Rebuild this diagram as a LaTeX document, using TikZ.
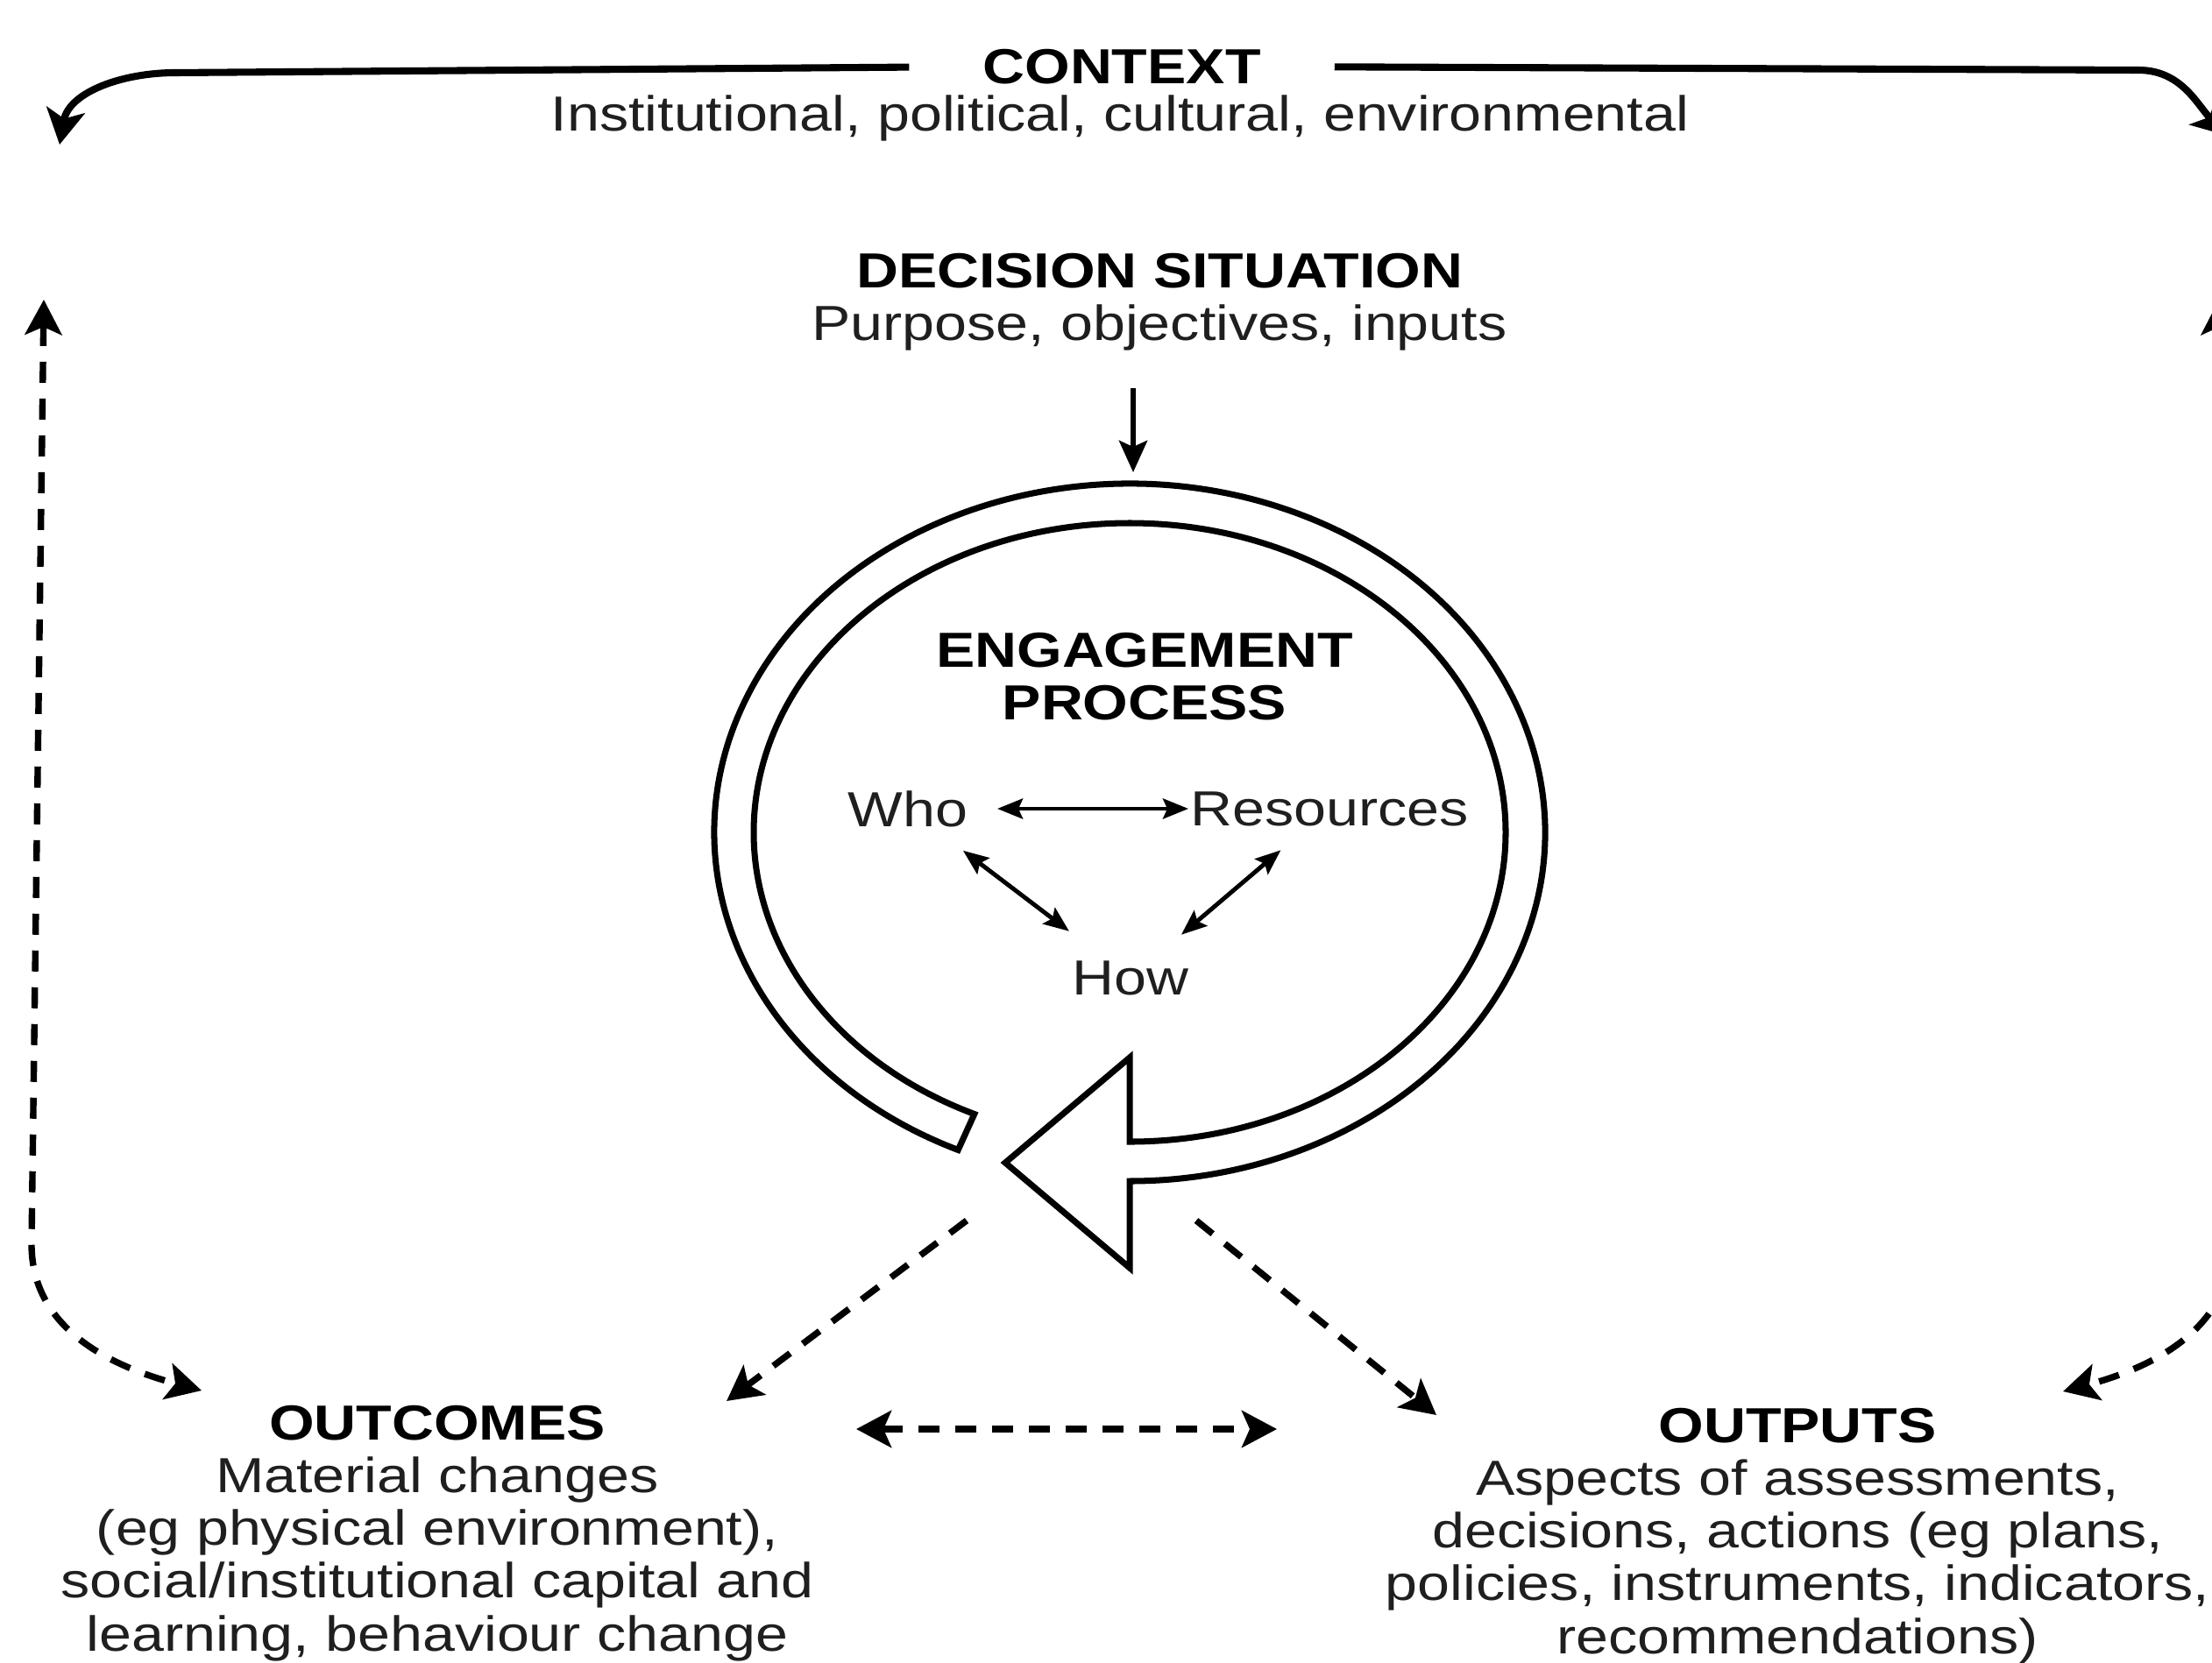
\documentclass[tikz,border=0pt]{standalone}
\usepackage{fontspec}
\setmainfont{Liberation Sans}[FakeStretch=1.18]
\usetikzlibrary{arrows.meta,positioning}

\newcommand{\hd}[1]{{\color{black}\bfseries #1}}

\tikzset{
  lbl/.style={align=center, text=black!88, font=\fontsize{16}{17.1}\selectfont, inner sep=1pt},
  ttl/.style={lbl, font=\fontsize{16}{17.1}\selectfont\bfseries, text=black},
  solidarr/.style={line width=1.8pt, -{Stealth[length=3.6mm, width=3.2mm, inset=0.7mm]}},
  ctxarr/.style={line width=2.3pt, -{Stealth[length=4mm, width=4.4mm, inset=1mm]}},
  dbl/.style={line width=1.4pt, {Stealth[length=2.9mm, width=2.3mm, inset=0.5mm]}-{Stealth[length=2.9mm, width=2.3mm, inset=0.5mm]}},
  dasharr/.style={line width=2.1pt, dash pattern=on 2.4mm off 1.8mm, -{Stealth[length=4mm, width=4.2mm, inset=0.9mm]}},
  dashdbl/.style={dasharr, {Stealth[length=4mm, width=4.2mm, inset=0.9mm]}-{Stealth[length=4mm, width=4.2mm, inset=0.9mm]}},
  ring/.style={line width=2pt, line join=miter}
}

\begin{document}
\begin{tikzpicture}[every node/.style={lbl}]
  \useasboundingbox (0,0) rectangle (25.24,-18.97);
  \clip (0,0) rectangle (25.24,-18.97);

  % labels
  \node (ctx) [ttl] at (12.80,-0.76) {CONTEXT};
  \node (ctxsub) at (12.78,-1.35) {Institutional, political, cultural, environmental};
  \node (dec) at (13.23,-3.45) {\hd{DECISION SITUATION}\\Purpose, objectives, inputs};
  \node (eng) [ttl] at (13.06,-7.72) {ENGAGEMENT\\PROCESS};
  \node (who) at (10.36,-9.23) {Who};
  \node (res) at (15.17,-9.23) {Resources};
  \node (how) at (12.90,-11.16) {How};
  \node (outc) at (4.99,-17.50) {\hd{OUTCOMES}\\Material changes\\(eg physical environment),\\social/institutional capital and\\learning, behaviour change};
  \node (outp) at (20.51,-17.53) {\hd{OUTPUTS}\\Aspects of assessments,\\decisions, actions (eg plans,\\policies, instruments, indicators,\\recommendations)};

  % free ends
  \coordinate (ctxl) at (0.68,-1.65);
  \coordinate (ctxr) at (25.42,-1.55);
  \coordinate (lt) at (0.50,-3.42);
  \coordinate (lb) at (2.30,-15.87);
  \coordinate (rt) at (25.32,-3.42);
  \coordinate (rb) at (23.54,-15.88);
  \coordinate (ringtop) at (12.93,-5.39);
  \coordinate (ringl) at (11.03,-13.93);
  \coordinate (ringr) at (13.65,-13.93);
  \coordinate (outcin) at (8.29,-15.99);
  \coordinate (outpin) at (16.39,-16.15);
  \coordinate (midl) at (9.77,-16.31);
  \coordinate (midr) at (14.57,-16.31);

  % context arrows
  \draw[ctxarr, shorten <=0.8cm] (ctx.west) -- (2.0,-0.83) to[out=180,in=80] (ctxl);
  \draw[ctxarr, shorten <=0.8cm] (ctx.east) -- (24.4,-0.80) to[out=0,in=135] (ctxr);

  % decision to process
  \draw[solidarr, shorten <=0.38cm] (ringtop |- dec.south) -- (ringtop);

  % the loop
  \draw[ring] (12.89,-9.50) ++(245.6:4.74 and 3.98)
    arc[start angle=245.6, end angle=-90, x radius=4.74, y radius=3.98]
    -- (12.89,-14.47) -- (11.47,-13.27) -- (12.89,-12.07) -- (12.89,-13.03)
    arc[start angle=-90, end angle=245.6, x radius=4.29, y radius=3.53] -- cycle;

  % who / resources / how
  \draw[dbl, shorten <=1.02cm, shorten >=1.61cm] (who.center) -- (res.center);
  \draw[dbl, shorten <=0.79cm, shorten >=0.88cm] (who.center) -- (how.center);
  \draw[dbl, shorten <=0.73cm, shorten >=0.76cm] (res.center) -- (how.center);

  % dashed links
  \draw[dasharr] (ringl) -- (outcin);
  \draw[dasharr] (ringr) -- (outpin);
  \draw[dashdbl] (midl) -- (midr);
  \draw[dashdbl] (lt) -- (0.36,-14.2) to[out=-90,in=165] (lb);
  \draw[dashdbl] (rt) -- (25.46,-14.2) to[out=-90,in=15] (rb);
\end{tikzpicture}
\end{document}
